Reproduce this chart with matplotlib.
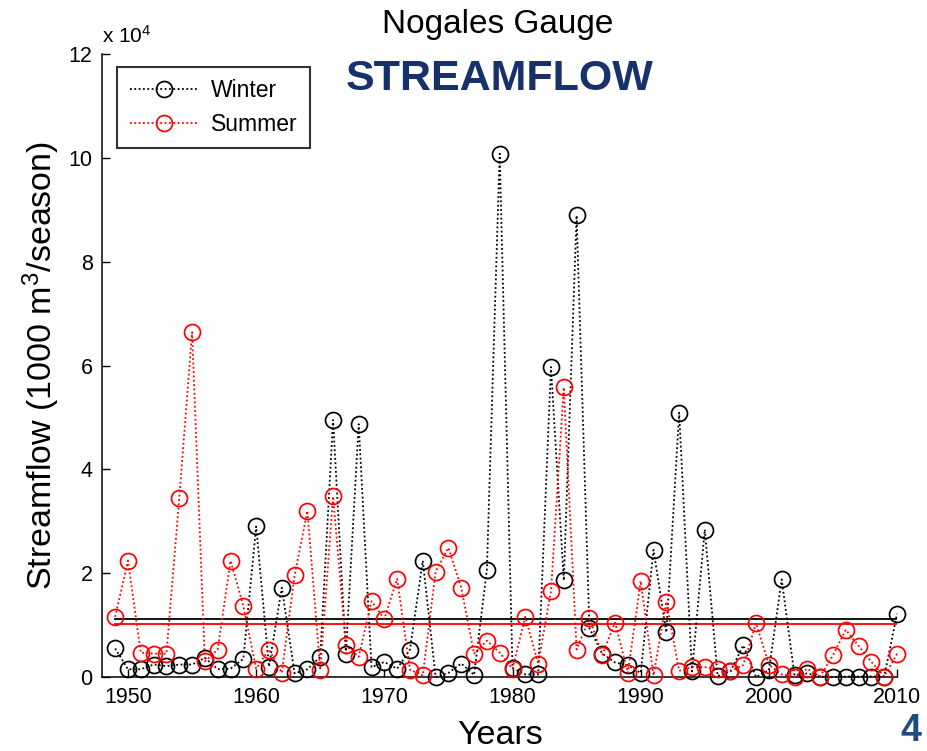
import matplotlib
matplotlib.use("Agg")
import matplotlib.pyplot as plt
import numpy as np

plt.rcParams['font.family'] = ['Liberation Sans', 'DejaVu Sans']
plt.rcParams['mathtext.fontset'] = 'custom'
plt.rcParams['mathtext.rm'] = 'Liberation Sans'
plt.rcParams['mathtext.default'] = 'regular'

years = list(range(1949, 2011))

# streamflow, units of 10^4 (1000 m^3/season)
winter = [0.55, 0.15, 0.15, 0.24, 0.21, 0.24, 0.24, 0.37, 0.15, 0.16,
          0.35, 2.90, 0.20, 1.72, 0.07, 0.15, 0.39, 4.95, 0.45, 4.87,
          0.19, 0.29, 0.16, 0.53, 2.24, 0.00, 0.08, 0.26, 0.04, 2.07,
          10.08, 0.17, 0.05, 0.05, 5.97, 1.86, 8.89, 0.94, 0.45, 0.28,
          0.23, 0.08, 2.45, 0.86, 5.09, 0.11, 2.84, 0.02, 0.11, 0.61,
          0.00, 0.13, 1.88, 0.03, 0.07, 0.01, 0.00, 0.01, 0.01, 0.01,
          0.01, 1.22]
summer = [1.16, 2.24, 0.47, 0.45, 0.45, 3.44, 6.64, 0.30, 0.53, 2.24,
          1.37, 0.16, 0.53, 0.08, 1.96, 3.20, 0.14, 3.48, 0.61, 0.39,
          1.46, 1.12, 1.89, 0.14, 0.03, 2.03, 2.49, 1.72, 0.45, 0.70,
          0.47, 0.16, 1.16, 0.26, 1.65, 5.58, 0.53, 1.13, 0.42, 1.05,
          0.08, 1.85, 0.03, 1.45, 0.12, 0.19, 0.19, 0.16, 0.11, 0.23,
          1.04, 0.24, 0.05, 0.01, 0.16, 0.01, 0.42, 0.91, 0.60, 0.29,
          0.01, 0.45]
winter_mean = 1.125
summer_mean = 1.015

xticks = [1950, 1960, 1970, 1980, 1990, 2000, 2010]
yticks = [0, 2, 4, 6, 8, 10, 12]

fig = plt.figure(figsize=(9.27, 7.51), dpi=100)
ax = fig.add_axes([0.1104, 0.0985, 0.8573, 0.8296])

ms = 11.5
mew = 1.25
ax.plot(years, winter, color='black', linestyle=(0, (1.0, 1.4)), linewidth=1.3,
        marker='o', markersize=ms, markerfacecolor='none',
        markeredgecolor='black', markeredgewidth=mew, label='Winter',
        clip_on=False, zorder=3)
ax.plot(years, summer, color='red', linestyle=(0, (1.0, 1.4)), linewidth=1.3,
        marker='o', markersize=ms, markerfacecolor='none',
        markeredgecolor='red', markeredgewidth=mew, label='Summer',
        clip_on=False, zorder=3)
ax.plot([years[0], years[-1]], [winter_mean, winter_mean], color='black',
        linewidth=1.3, zorder=2)
ax.plot([years[0], years[-1]], [summer_mean, summer_mean], color='red',
        linewidth=1.3, zorder=2)

ax.set_xlim(1948, 2010)
ax.set_ylim(0, 12)
ax.set_xticks(xticks)
ax.set_xticklabels([str(t) for t in xticks])
ax.set_yticks(yticks)
ax.set_yticklabels([str(t) for t in yticks])
ax.tick_params(direction='in', length=6, width=1, labelsize=15.5,
               top=False, right=False)
ax.tick_params(axis='x', pad=7)
ax.tick_params(axis='y', pad=7)
for s in ['top', 'right']:
    ax.spines[s].set_visible(False)
for s in ['left', 'bottom']:
    ax.spines[s].set_linewidth(1.1)

ax.text(0.0, 1.012, r'x 10$^{4}$', transform=ax.transAxes, ha='left',
        va='bottom', fontsize=15)

ax.set_xlabel('Years', fontsize=24.5, labelpad=9)
ax.set_ylabel(r'Streamflow (1000 m$^{3}$/season)', fontsize=24.5, labelpad=5)

leg = ax.legend(loc='upper left', bbox_to_anchor=(0.0185, 0.9796),
                borderaxespad=0, fontsize=16.5, frameon=True, fancybox=False,
                handlelength=3.0, handletextpad=0.55, labelspacing=0.45,
                borderpad=0.55)
leg.get_frame().set_edgecolor('black')
leg.get_frame().set_linewidth(1.5)

fig.text(498 / 927, 1 - 33 / 751, 'Nogales Gauge', ha='center',
         va='baseline', fontsize=24)
fig.text(500 / 927, 1 - 90 / 751, 'STREAMFLOW', ha='center', va='baseline',
         fontsize=31, fontweight='bold', color='#17326b')
fig.text(911 / 927, 1 - 749 / 751, '4', ha='center', va='bottom',
         fontsize=27, fontweight='bold', color='#1f4a82')

fig.savefig('out.png', dpi=100)
